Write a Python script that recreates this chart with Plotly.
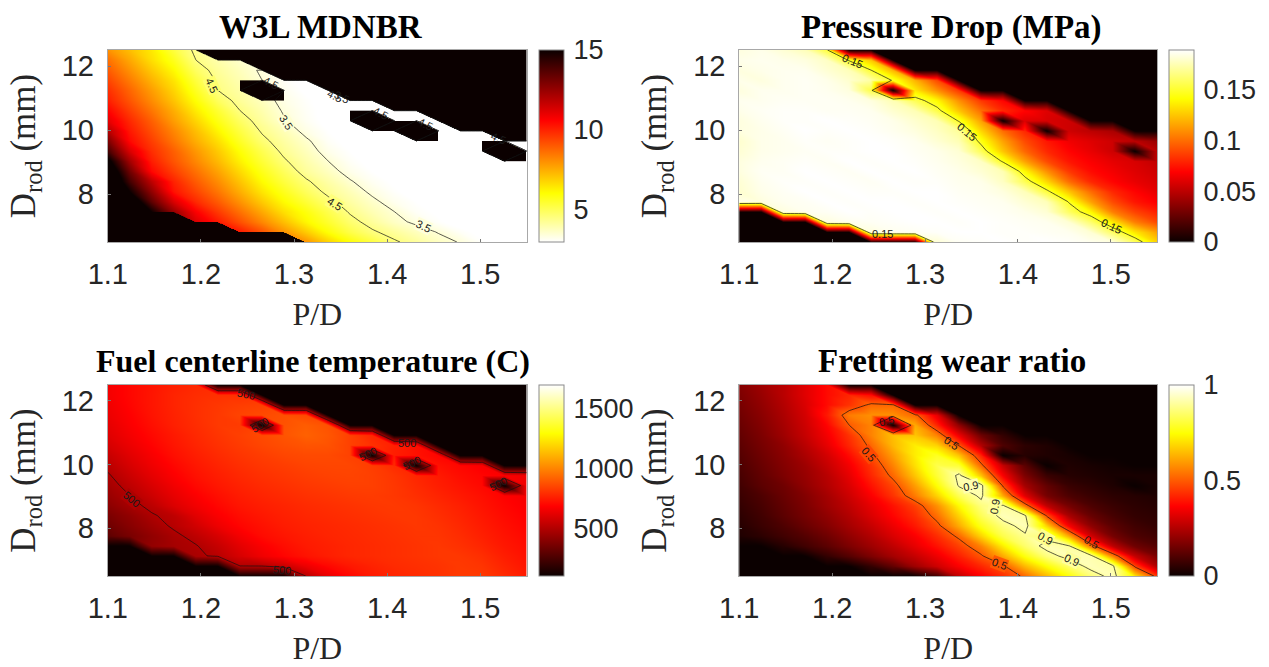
import numpy as np
import plotly.graph_objects as go

P_D = [1.1, 1.1237, 1.1474, 1.1711, 1.1947, 1.2184, 1.2421, 1.2658, 1.2895, 1.3132,
       1.3368, 1.3605, 1.3842, 1.4079, 1.4316, 1.4553, 1.4789, 1.5026, 1.5263, 1.55]
# listed top row first, as in the picture
D_ROD = [12.5, 12.184, 11.868, 11.553, 11.237, 10.921, 10.605, 10.289, 9.974, 9.658,
         9.342, 9.026, 8.711, 8.395, 8.079, 7.763, 7.447, 7.132, 6.816, 6.5]
OUT = 100000.0  # MDNBR at infeasible designs

MDNBR = [
 [8.0,7.2,6.4,5.3,4.3,OUT,OUT,OUT,OUT,OUT,OUT,OUT,OUT,OUT,OUT,OUT,OUT,OUT,OUT,OUT],
 [8.6,7.6,6.6,5.7,4.5,4.0,3.6,OUT,OUT,OUT,OUT,OUT,OUT,OUT,OUT,OUT,OUT,OUT,OUT,OUT],
 [9.0,8.0,7.0,6.1,4.9,4.2,3.8,3.4,OUT,OUT,OUT,OUT,OUT,OUT,OUT,OUT,OUT,OUT,OUT,OUT],
 [9.4,8.4,7.4,6.5,5.3,4.37,3.93,3.5,3.1,2.9,OUT,OUT,OUT,OUT,OUT,OUT,OUT,OUT,OUT,OUT],
 [9.8,8.8,7.8,6.8,5.65,4.5,4.07,OUT,3.2,2.95,2.8,OUT,OUT,OUT,OUT,OUT,OUT,OUT,OUT,OUT],
 [10.1,9.1,8.1,7.1,6.0,4.93,4.23,3.77,3.3,3.05,2.9,2.8,2.8,OUT,OUT,OUT,OUT,OUT,OUT,OUT],
 [10.6,9.5,8.5,7.5,6.4,5.44,4.5,3.97,3.42,3.1,2.9,2.8,2.8,2.8,2.8,OUT,OUT,OUT,OUT,OUT],
 [11.1,9.9,8.9,7.8,6.8,5.8,4.88,4.15,3.56,3.15,2.9,2.8,OUT,2.8,2.8,2.8,OUT,OUT,OUT,OUT],
 [12.0,10.2,9.2,8.2,7.2,6.2,5.25,4.4,3.87,3.3,3.0,2.8,2.8,2.8,OUT,2.8,2.8,2.8,OUT,OUT],
 [13.0,10.5,9.5,8.5,7.5,6.6,5.6,4.7,4.1,3.6,3.1,2.9,2.8,2.8,2.8,2.8,2.8,2.8,2.8,2.8],
 [14.0,11.3,9.8,8.9,7.9,7.0,6.0,5.1,4.3,3.8,3.25,3.0,2.8,2.8,2.8,2.8,2.8,2.8,OUT,2.8],
 [15.5,12.3,10.1,9.1,8.2,7.3,6.3,5.4,4.6,4.0,3.5,3.1,2.9,2.8,2.8,2.8,2.8,2.8,2.8,2.8],
 [16.5,13.2,10.5,9.5,8.6,7.7,6.7,5.75,4.95,4.2,3.75,3.25,3.0,2.8,2.8,2.8,2.8,2.8,2.8,2.8],
 [17.0,14.0,11.8,10.0,9.0,8.1,7.1,6.1,5.3,4.6,4.05,3.55,3.15,2.95,2.8,2.8,2.8,2.8,2.8,2.8],
 [18.0,15.0,12.6,10.3,9.4,8.5,7.5,6.5,5.7,4.95,4.3,3.85,3.35,3.05,2.85,2.8,2.8,2.8,2.8,2.8],
 [19.0,16.5,13.5,11.3,9.9,9.0,8.0,7.0,6.1,5.4,4.7,4.1,3.65,3.2,3.0,2.85,2.8,2.8,2.8,2.8],
 [OUT,OUT,15.0,12.5,10.7,9.6,8.6,7.6,6.6,5.9,5.15,4.4,3.9,3.5,3.1,2.95,2.8,2.8,2.8,2.8],
 [OUT,OUT,OUT,OUT,11.3,10.2,9.2,8.2,7.2,6.2,5.5,4.75,4.2,3.7,3.35,3.05,2.85,2.8,2.8,2.8],
 [OUT,OUT,OUT,OUT,OUT,OUT,10.2,9.2,8.0,7.0,6.0,5.2,4.6,4.2,3.8,3.45,3.1,2.9,2.8,2.8],
 [OUT,OUT,OUT,OUT,OUT,OUT,OUT,OUT,OUT,8.0,6.9,6.0,5.3,4.6,4.2,3.75,3.45,3.05,2.85,2.8],
]

PRESSURE = [
 [.183,.185,.181,.176,.152,0,0,0,0,0,0,0,0,0,0,0,0,0,0,0],
 [.185,.186,.185,.183,.178,.148,.125,0,0,0,0,0,0,0,0,0,0,0,0,0],
 [.183,.185,.186,.186,.181,.176,.15,.12,0,0,0,0,0,0,0,0,0,0,0,0],
 [.185,.183,.186,.187,.185,.18,.172,.148,.12,.09,0,0,0,0,0,0,0,0,0,0],
 [.183,.186,.186,.187,.186,.183,.155,0,.135,.11,.085,0,0,0,0,0,0,0,0,0],
 [.186,.186,.187,.187,.187,.186,.183,.175,.157,.14,.11,.085,.07,0,0,0,0,0,0,0],
 [.185,.187,.188,.188,.187,.187,.186,.18,.175,.155,.125,.1,.08,.07,.06,0,0,0,0,0],
 [.183,.186,.188,.188,.189,.188,.187,.185,.18,.175,.148,.115,0,.06,.058,.055,0,0,0,0],
 [.183,.185,.187,.189,.188,.189,.188,.186,.183,.178,.17,.13,.1,.08,0,.055,.05,.045,0,0],
 [.18,.185,.186,.188,.187,.188,.189,.188,.186,.181,.175,.145,.115,.09,.075,.065,.06,.055,.05,.04],
 [.181,.185,.186,.187,.188,.188,.189,.189,.187,.185,.181,.158,.125,.098,.08,.07,.063,.055,0,.05],
 [.183,.186,.187,.188,.187,.189,.188,.189,.188,.186,.183,.178,.147,.115,.09,.075,.068,.062,.058,.052],
 [.183,.187,.187,.189,.188,.187,.189,.188,.189,.187,.185,.181,.175,.14,.11,.085,.072,.066,.06,.055],
 [.181,.186,.188,.188,.189,.188,.187,.189,.188,.188,.186,.185,.178,.157,.13,.1,.08,.07,.063,.058],
 [.18,.185,.187,.189,.188,.189,.188,.188,.189,.189,.187,.186,.183,.176,.153,.125,.1,.08,.07,.062],
 [.185,.183,.186,.187,.189,.188,.189,.189,.188,.189,.188,.187,.186,.181,.176,.148,.115,.09,.075,.068],
 [0,0,.183,.186,.187,.189,.188,.189,.189,.188,.189,.188,.187,.185,.181,.16,.14,.105,.088,.078],
 [0,0,0,0,.183,.186,.187,.188,.189,.189,.188,.189,.188,.187,.186,.181,.162,.135,.105,.09],
 [0,0,0,0,0,0,.183,.186,.187,.188,.189,.189,.188,.188,.187,.186,.181,.16,.135,.115],
 [0,0,0,0,0,0,0,0,0,.181,.187,.188,.189,.188,.189,.188,.186,.183,.16,.13],
]

TEMPERATURE = [
 [660,700,730,760,780,100,100,100,100,100,100,100,100,100,100,100,100,100,100,100],
 [660,700,735,770,790,800,800,100,100,100,100,100,100,100,100,100,100,100,100,100],
 [650,695,735,770,795,815,830,840,100,100,100,100,100,100,100,100,100,100,100,100],
 [640,685,730,765,795,820,845,860,875,860,100,100,100,100,100,100,100,100,100,100],
 [625,675,720,760,790,820,825,100,880,905,880,100,100,100,100,100,100,100,100,100],
 [610,660,705,745,780,810,835,860,885,915,890,840,780,100,100,100,100,100,100,100],
 [585,640,690,735,770,800,825,850,870,885,880,840,800,760,720,100,100,100,100,100],
 [550,615,670,720,755,785,810,830,850,860,860,840,100,755,725,695,100,100,100,100],
 [520,590,650,700,740,770,795,815,830,845,850,850,830,790,100,725,700,675,100,100],
 [490,560,625,680,725,755,780,800,815,830,840,845,835,810,775,745,715,695,675,655],
 [465,530,595,655,705,740,765,785,800,815,825,835,835,815,785,755,730,705,100,655],
 [440,500,565,630,680,720,750,770,785,800,810,820,825,815,795,770,745,720,690,665],
 [410,470,525,600,655,700,735,755,770,785,795,805,815,820,810,785,760,730,700,675],
 [370,425,490,530,615,675,715,740,760,775,785,795,805,815,815,795,770,740,710,685],
 [340,400,460,515,575,645,695,725,750,765,775,785,795,805,815,805,780,750,720,695],
 [300,365,425,480,530,590,660,710,735,755,770,780,790,800,810,810,790,760,730,705],
 [100,100,430,470,495,550,620,675,715,745,760,775,785,795,805,815,800,775,740,715],
 [100,100,100,100,480,520,590,650,695,730,755,775,785,795,805,815,815,795,755,725],
 [100,100,100,100,100,100,500,505,555,640,700,740,765,785,795,805,820,810,770,735],
 [100,100,100,100,100,100,100,100,100,510,630,700,745,770,785,800,820,820,785,750],
]

FRETTING = [
 [.18,.22,.26,.32,.38,0,0,0,0,0,0,0,0,0,0,0,0,0,0,0],
 [.17,.21,.26,.32,.38,.42,.38,0,0,0,0,0,0,0,0,0,0,0,0,0],
 [.16,.2,.25,.31,.38,.44,.52,.52,0,0,0,0,0,0,0,0,0,0,0,0],
 [.15,.19,.24,.3,.4,.55,.58,.58,.52,.33,0,0,0,0,0,0,0,0,0,0],
 [.14,.18,.23,.29,.37,.5,.56,0,.62,.42,.2,0,0,0,0,0,0,0,0,0],
 [.13,.17,.22,.28,.35,.44,.56,.65,.66,.56,.34,.15,.06,0,0,0,0,0,0,0],
 [.12,.16,.2,.26,.33,.42,.52,.64,.72,.68,.49,.25,.1,.05,.03,0,0,0,0,0],
 [.11,.15,.19,.24,.3,.38,.48,.6,.72,.78,.66,.42,0,.04,.03,.02,0,0,0,0],
 [.1,.14,.18,.22,.28,.35,.44,.56,.7,.82,.8,.52,.28,.12,0,.03,.02,.01,0,0],
 [.09,.13,.17,.21,.26,.33,.42,.52,.66,.8,.92,.66,.36,.17,.07,.04,.03,.02,.02,.02],
 [.08,.12,.15,.2,.25,.31,.39,.47,.6,.75,.91,.93,.48,.23,.13,.07,.05,.03,0,.02],
 [.07,.1,.14,.18,.23,.29,.36,.44,.55,.68,.83,.92,.62,.32,.16,.1,.07,.05,.04,.03],
 [.06,.09,.13,.17,.22,.27,.33,.39,.46,.58,.74,.87,.91,.54,.27,.16,.1,.07,.05,.04],
 [.05,.08,.12,.16,.2,.25,.31,.37,.43,.53,.68,.83,.93,.91,.48,.24,.14,.09,.06,.05],
 [.04,.07,.1,.14,.18,.23,.28,.34,.4,.48,.62,.77,.87,.93,.68,.36,.2,.12,.08,.06],
 [.03,.05,.08,.11,.15,.2,.25,.31,.36,.43,.52,.68,.82,.89,.87,.62,.3,.16,.1,.08],
 [0,0,.04,.08,.12,.17,.22,.27,.33,.39,.46,.56,.72,.85,.93,.9,.54,.27,.15,.11],
 [0,0,0,0,.06,.11,.17,.23,.28,.34,.41,.49,.62,.76,.87,.93,.92,.56,.28,.17],
 [0,0,0,0,0,0,.06,.13,.22,.29,.36,.42,.49,.64,.75,.85,.93,.91,.47,.25],
 [0,0,0,0,0,0,0,0,0,.08,.27,.36,.43,.52,.64,.75,.86,.93,.72,.46],
]

TITLES = ["W3L MDNBR", "Pressure Drop (MPa)", "Fuel centerline temperature (C)", "Fretting wear ratio"]
TABLES = [MDNBR, PRESSURE, TEMPERATURE, FRETTING]
ZMIN = [3, 0, 105, 0]
ZMAX = [15, 0.189, 1695, 1]
CB_TICKS = [[5, 10, 15], [0, 0.05, 0.1, 0.15], [500, 1000, 1500], [0, 0.5, 1]]
CB_TEXT = [["5", "10", "15"], ["0", "0.05", "0.1", "0.15"], ["500", "1000", "1500"], ["0", "0.5", "1"]]
LEVELS = [(3.5, 4.5, 1), (0.15, 0.15, 1), (500, 500, 1), (0.5, 0.9, 0.4)]
X_TICKS = [1.1, 1.2, 1.3, 1.4, 1.5]
Y_TICKS = [8, 10, 12]

# contour labels: text, grid column, grid row (from the bottom), angle, gap in the line behind it
LABELS = [
    [("4.5", 4.7, 15.5, 65, True), ("3.5", 8.09, 11.9, 58, True), ("4.5", 10.3, 3.75, 32, True),
     ("3.5", 14.3, 1.6, 25, True), ("4.5", 10.3, 14.4, 27, False), ("3.5", 10.6, 14.3, 27, False),
     ("4.5", 12.35, 12.76, 27, False), ("4.5", 14.4, 11.7, 27, False), ("4.5", 17.7, 10.3, 22, False),
     ("4.5", 7.4, 15.7, 27, False)],
    [("0.15", 5.15, 17.95, 22, False), ("0.15", 10.35, 10.85, 40, False), ("0.15", 16.9, 1.6, 25, False),
     ("0.15", 6.5, 0.8, 0, False)],
    [("500", 6.25, 18.07, 12, False), ("500", 13.55, 13.2, 0, False), ("500", 1.08, 7.7, 40, True),
     ("500", 7.9, 0.63, 5, False), ("500", 6.9, 15.0, -32, False), ("500", 11.8, 12.1, -25, False),
     ("500", 13.8, 11.2, -25, False), ("500", 17.7, 9.2, -25, False)],
    [("0.5", 6.7, 15.4, -12, False), ("0.5", 9.65, 13.25, 35, False), ("0.5", 5.87, 12.1, 50, True),
     ("0.5", 11.85, 1.2, 20, True), ("0.5", 16.0, 3.4, 30, False), ("0.9", 10.5, 9.0, -10, True),
     ("0.9", 11.6, 6.9, -80, True), ("0.9", 13.9, 3.8, 30, True), ("0.9", 15.1, 1.55, 25, True)],
]

HOT = [[0, "#0b0000"], [0.365, "#ff0000"], [0.746, "#ffff00"], [1, "#ffffff"]]
HOT_R = [[round(1 - p, 3), c] for p, c in reversed(HOT)]
SCALES = [HOT_R, HOT, HOT, HOT]

W, H = 1269, 667
M_L, M_R = 17, 1
BOXES = [(105, 525, 50, 242), (738, 1157, 50, 242), (105, 525, 385, 576), (738, 1157, 385, 576)]
BAR_X = [537, 1169, 537, 1169]
TITLE_X = [319, 951, 311, 951]
TITLE_Y = [27, 27, 361, 361]
TITLE_SIZE = [33, 33, 32, 33]


def fx_px(px):
    return (px - M_L) / (W - M_L - M_R)


def shaded(z, xs, ys, nx, ny):
    """MATLAB-style interpolated shading over the triangles of the value grid."""
    xs, ys = np.asarray(xs), np.asarray(ys)
    fx = np.linspace(xs[0], xs[-1], nx)
    fy = np.linspace(ys[0], ys[-1], ny)
    i = np.clip(np.searchsorted(xs, fx, side="right") - 1, 0, len(xs) - 2)
    j = np.clip(np.searchsorted(ys, fy, side="right") - 1, 0, len(ys) - 2)
    u = ((fx - xs[i]) / (xs[i + 1] - xs[i]))[None, :]
    v = ((fy - ys[j]) / (ys[j + 1] - ys[j]))[:, None]
    I, J = np.meshgrid(i, j)
    z00, z10, z01, z11 = z[J, I], z[J, I + 1], z[J + 1, I], z[J + 1, I + 1]
    low = z00 + u * (z10 - z00) + v * (z01 - z00)
    upp = z11 + (1 - u) * (z01 - z11) + (1 - v) * (z10 - z11)
    return fx, fy, np.where(u + v <= 1, low, upp)


def colour_at(value, k):
    t = float(np.clip((value - ZMIN[k]) / (ZMAX[k] - ZMIN[k]), 0, 1))
    if k == 0:
        t = 1 - t
    r = float(np.interp(t, [0, 0.365, 1], [11, 255, 255]))
    g = float(np.interp(t, [0, 0.365, 0.746, 1], [0, 0, 255, 255]))
    b = float(np.interp(t, [0, 0.746, 1], [0, 0, 255]))
    return f"rgb({r:.0f},{g:.0f},{b:.0f})"


fig = go.Figure()
ys = D_ROD[::-1]
layout = {}
annotations = []
for k in range(4):
    x0, x1, y0, y1 = BOXES[k]
    ax = "" if k == 0 else str(k + 1)
    z = np.array(TABLES[k], dtype=float)[::-1]
    fx, fy, fz = shaded(z, P_D, ys, (x1 - x0) * 2, (y1 - y0) * 2)
    fig.add_trace(go.Heatmap(
        x=fx, y=fy, z=fz, xaxis="x" + ax, yaxis="y" + ax, zmin=ZMIN[k], zmax=ZMAX[k],
        colorscale=SCALES[k], zsmooth="fast", hoverinfo="skip",
        colorbar=dict(
            x=fx_px(BAR_X[k]), xanchor="left", xpad=0, ypad=0, thickness=25, thicknessmode="pixels",
            len=(y1 - y0) / H, lenmode="fraction", y=1 - (y0 + y1) / 2 / H, yanchor="middle",
            tickvals=CB_TICKS[k], ticktext=CB_TEXT[k], ticks="outside", ticklen=4,
            tickcolor="rgba(0,0,0,0)", outlinecolor="#8a8a8a", outlinewidth=1,
            tickfont=dict(family="Liberation Sans", size=27, color="#262626")),
    ))
    s, e, d = LEVELS[k]
    fig.add_trace(go.Contour(
        x=P_D, y=ys, z=z, xaxis="x" + ax, yaxis="y" + ax, showscale=False, hoverinfo="skip",
        contours=dict(coloring="none", start=s, end=e, size=d, showlabels=False),
        line=dict(color="#111111", width=0.7, smoothing=0),
    ))
    axis = dict(showgrid=False, zeroline=False, showline=True, mirror=True, linecolor="#a8a8a8", linewidth=1,
                ticks="inside", ticklen=3, tickcolor="#777777",
                tickfont=dict(family="Liberation Sans", size=29, color="#262626"))
    layout["xaxis" + ax] = dict(axis, domain=[fx_px(x0), fx_px(x1)], range=[1.1, 1.55], tickvals=X_TICKS,
                                ticktext=[f"{t:.1f}" for t in X_TICKS], anchor="y" + ax, ticklabelstandoff=6,
                                title=dict(text="P/D", standoff=13,
                                           font=dict(family="Liberation Serif", size=32, color="#262626")))
    layout["yaxis" + ax] = dict(axis, domain=[1 - y1 / H, 1 - y0 / H], range=[6.5, 12.5], tickvals=Y_TICKS,
                                anchor="x" + ax, ticklabelstandoff=7,
                                title=dict(text="D<sub>rod</sub> (mm)", standoff=15,
                                           font=dict(family="Liberation Serif", size=35, color="#262626")))
    annotations.append(dict(text=f"<b>{TITLES[k]}</b>", x=fx_px(TITLE_X[k]), y=1 - TITLE_Y[k] / H,
                            xref="paper", yref="paper", xanchor="center", yanchor="middle", showarrow=False,
                            font=dict(family="Liberation Serif", size=TITLE_SIZE[k], color="black")))
    for text, col, row, angle, gap in LABELS[k]:
        lx = float(np.interp(col, np.arange(20), P_D))
        ly = float(np.interp(row, np.arange(20), ys))
        pick = (np.abs(fy - ly).argmin(), np.abs(fx - lx).argmin())
        ann = dict(text=text, x=lx, y=ly, xref="x" + ax, yref="y" + ax, showarrow=False, textangle=angle,
                   xanchor="center", yanchor="middle", borderpad=0,
                   font=dict(family="Liberation Sans", size=11, color="#1a1a1a"))
        if gap:
            ann["bgcolor"] = colour_at(fz[pick], k)
        annotations.append(ann)

fig.update_layout(
    width=W, height=H, margin=dict(l=M_L, r=M_R, t=0, b=0), paper_bgcolor="white", plot_bgcolor="white",
    showlegend=False, annotations=annotations, **layout,
)
fig.write_html("out.html", config={"displayModeBar": False},
               post_script="document.body.style.margin='0';document.documentElement.style.overflow='hidden';")
